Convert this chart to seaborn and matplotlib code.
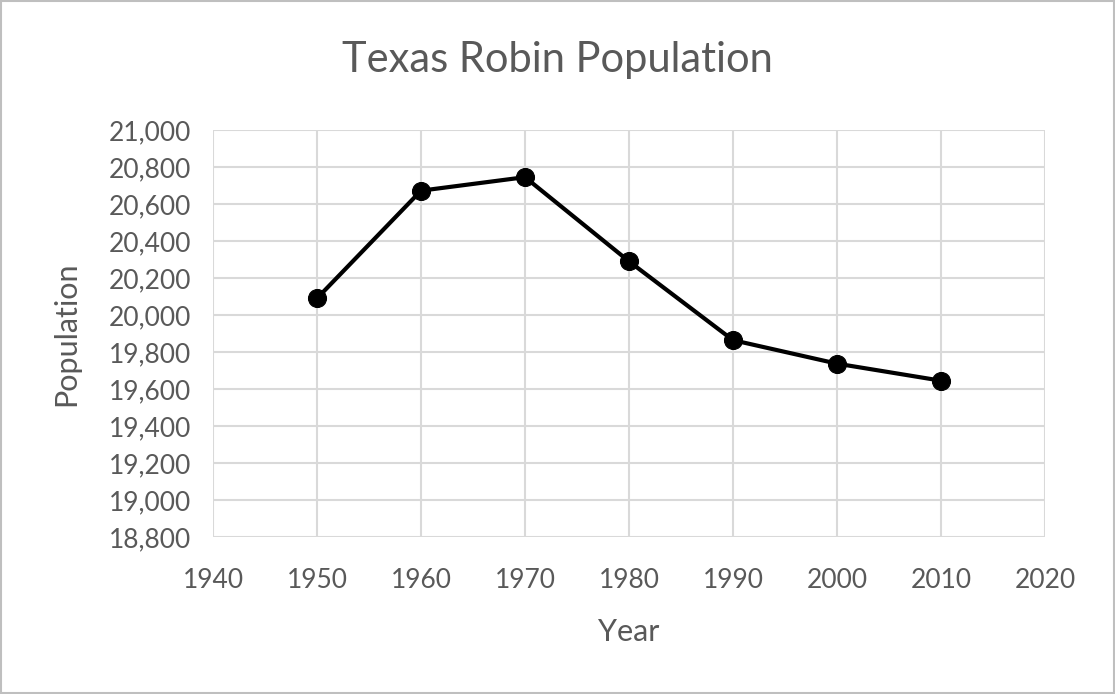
import pandas as pd
import seaborn as sns
import matplotlib.pyplot as plt

anos = [1950, 1960, 1970, 1980, 1990, 2000, 2010]
populacao = [20090, 20672, 20745, 20290, 19864, 19737, 19645]

df = pd.DataFrame({'Year': anos, 'Population': populacao})

sns.set_style('whitegrid', {'grid.color': '#d9d9d9', 'axes.edgecolor': '#d9d9d9'})
plt.rcParams['font.family'] = ['Lato', 'DejaVu Sans']
cinza = '#595959'

fig = plt.figure(figsize=(11.15, 6.94), dpi=100)
ax = fig.add_axes([213 / 1115, 1 - 537 / 694, (1045 - 213) / 1115, (537 - 130) / 694])

sns.lineplot(data=df, x='Year', y='Population', ax=ax, color='black', linewidth=3,
             marker='o', markersize=13, markeredgecolor='black')

ax.set_xlim(1940, 2020)
ax.set_ylim(18800, 21000)
ax.set_xticks(range(1940, 2021, 10))
ax.set_yticks(range(18800, 21001, 200))
ax.yaxis.set_major_formatter(plt.FuncFormatter(lambda v, p: f'{int(v):,}'))
ax.grid(True, color='#d9d9d9', linewidth=1.5)
for s in ax.spines.values():
    s.set_visible(False)
ax.tick_params(axis='x', length=0, labelsize=19, colors=cinza, pad=22)
ax.tick_params(axis='y', length=0, labelsize=19, colors=cinza, pad=16)

ax.set_xlabel('Year', fontsize=22, color=cinza, labelpad=18)
ax.set_ylabel('Population', fontsize=22, color=cinza, labelpad=20)
fig.text(0.5, 1 - 60 / 694, 'Texas Robin Population', fontsize=30, color=cinza,
         ha='center', va='center')

# borda externa
fig.patches.append(plt.Rectangle((0.001, 0.001), 0.998, 0.997, transform=fig.transFigure,
                                 fill=False, edgecolor='#bfbfbf', linewidth=1.5))

fig.savefig('out.png', dpi=100)
